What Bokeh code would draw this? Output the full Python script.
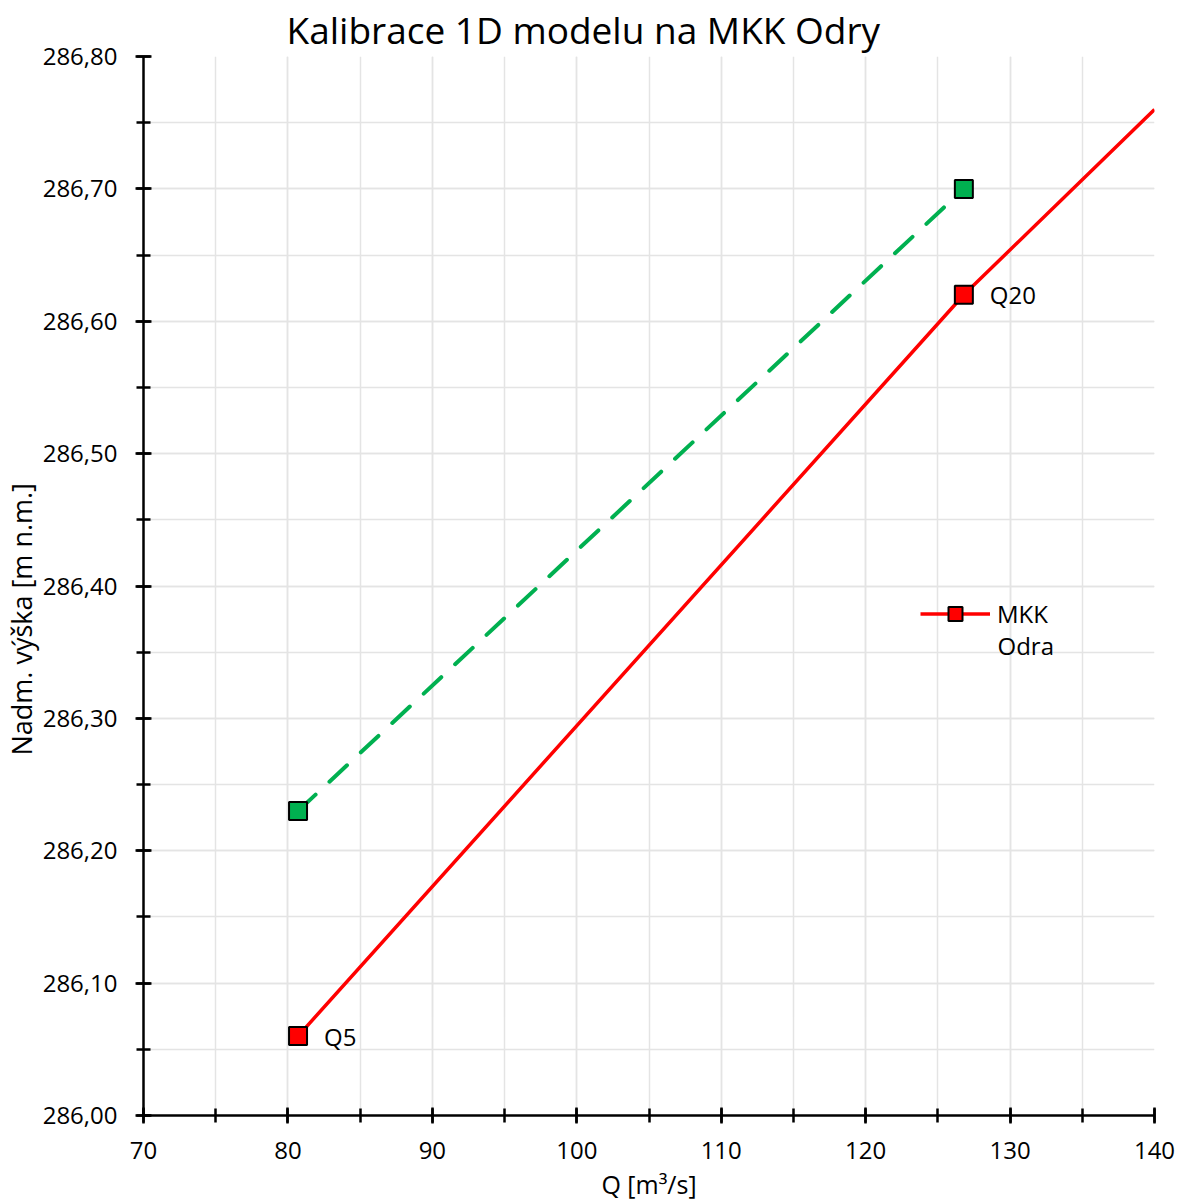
from bokeh.plotting import figure
from bokeh.models import (SingleIntervalTicker, CustomJSTickFormatter, Legend, LegendItem,
                          Range1d, Title, Label)
from bokeh.core.properties import value
from bokeh.embed import file_html
from bokeh.resources import INLINE

# ---- data ----
q_red = [80.7, 126.8, 140.0]
h_red = [286.06, 286.62, 286.76]
q_red_pts = [80.7, 126.8]
h_red_pts = [286.06, 286.62]
red_labels = ["Q5", "Q20"]

q_green = [80.7, 126.8]
h_green = [286.23, 286.70]

title_text = "Kalibrace 1D modelu na MKK Odry"
x_label = "Q [m³/s]"
y_label = "Nadm. výška [m n.m.]"
legend_line1 = "MKK"
legend_line2 = "Odra"

FONT = "Open Sans"
RED = "#ff0000"
GREEN = "#00b050"
GRID = "#e4e4e4"

p = figure(frame_width=1011, frame_height=1059,
           min_border_left=136, min_border_top=51, min_border_right=24, min_border_bottom=80,
           x_range=Range1d(70, 140), y_range=Range1d(286.0, 286.8),
           output_backend="svg", toolbar_location=None, title=None)

p.add_layout(Title(text=title_text, text_font=FONT, text_font_size="37px",
                   text_font_style="normal", align="left", offset=143, text_color="#000000",
                   standoff=3), "above")

p.outline_line_color = None
p.background_fill_color = "white"
p.border_fill_color = "white"

p.xaxis.ticker = SingleIntervalTicker(interval=10, num_minor_ticks=2)
p.yaxis.ticker = SingleIntervalTicker(interval=0.1, num_minor_ticks=2)
p.yaxis.formatter = CustomJSTickFormatter(code="return tick.toFixed(2).replace('.', ',');")

for ax in (p.xaxis[0], p.yaxis[0]):
    ax.axis_line_color = "black"
    ax.axis_line_width = 2.5
    ax.major_tick_line_color = "black"
    ax.major_tick_line_width = 2.5
    ax.minor_tick_line_color = "black"
    ax.minor_tick_line_width = 2.5
    ax.major_tick_in = 8
    ax.major_tick_out = 8
    ax.minor_tick_in = 7
    ax.minor_tick_out = 7
    ax.major_label_text_font = FONT
    ax.major_label_text_font_size = "24px"
    ax.major_label_text_color = "black"
    ax.axis_label_text_font = FONT
    ax.axis_label_text_font_size = "25px"
    ax.axis_label_text_font_style = "normal"
    ax.axis_label_text_color = "black"

p.xaxis.axis_label = x_label
p.xaxis.major_label_standoff = 18
p.yaxis.major_label_standoff = 18
p.xaxis.axis_label_standoff = 5

p.add_layout(Title(text=y_label, text_font=FONT, text_font_size="27px",
                   text_font_style="normal", align="left", offset=360,
                   text_color="#000000", standoff=0), "left")

for g in (p.xgrid[0], p.ygrid[0]):
    g.grid_line_color = GRID
    g.grid_line_width = 1.5
    g.minor_grid_line_color = GRID
    g.minor_grid_line_width = 1.5

green_line = p.line(q_green, h_green, line_color=GREEN, line_width=4,
                    line_dash="24 19", line_cap="round")
green_pts = p.scatter(q_green, h_green, marker="square", size=18,
                      fill_color=GREEN, line_color="black", line_width=2)

red_line = p.line(q_red, h_red, line_color=RED, line_width=3.5)
red_pts = p.scatter(q_red_pts, h_red_pts, marker="square", size=18,
                    fill_color=RED, line_color="black", line_width=2)

p.text(x=q_red_pts, y=h_red_pts, text=red_labels, x_offset=26,
       text_baseline="middle", text_align="left",
       text_font=value(FONT), text_font_size="24px", text_color="black")

legend = Legend(items=[LegendItem(label=legend_line1, renderers=[red_line, red_pts])],
                location=(777, 484), orientation="vertical",
                glyph_width=70, glyph_height=35, label_standoff=7,
                label_text_font=FONT, label_text_font_size="24px", label_text_color="black",
                padding=0, margin=0, spacing=0,
                background_fill_alpha=0, border_line_color=None)
p.add_layout(legend)

p.add_layout(Label(x=129.13, y=286.355, text=legend_line2, text_baseline="middle",
                   text_align="left", text_font=FONT, text_font_size="24px",
                   text_color="black"))

open("out.html", "w").write(file_html(p, INLINE))
